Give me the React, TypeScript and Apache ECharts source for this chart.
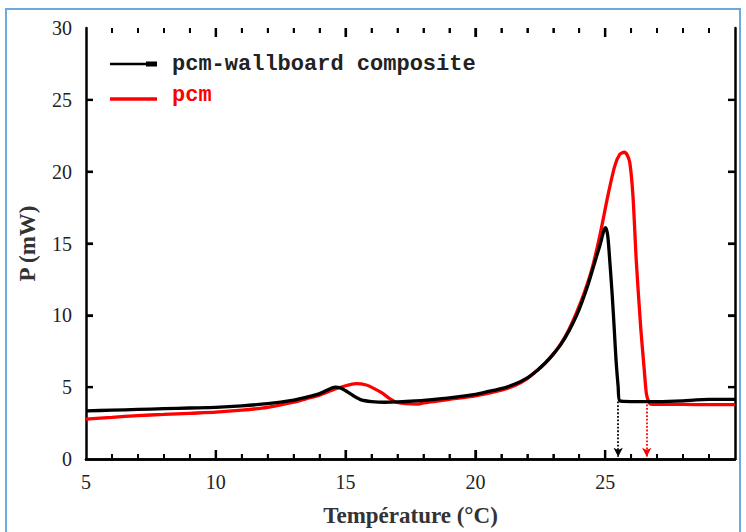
import React, { useEffect, useRef } from "react";
import * as echarts from "echarts";

// Temperature (°C) vs power (mW)
const compositeData: number[][] = [
  [5, 3.35], [6, 3.4], [7, 3.45], [8, 3.5], [9, 3.55], [10, 3.6], [11, 3.7], [12, 3.85],
  [13, 4.1], [13.5, 4.3], [14, 4.55], [14.3, 4.8], [14.6, 5.0], [14.8, 4.95], [15.0, 4.75],
  [15.3, 4.4], [15.6, 4.12], [16.0, 4.0], [16.5, 3.95], [17, 3.97], [17.5, 4.02], [18, 4.08],
  [19, 4.25], [20, 4.5], [20.5, 4.7], [21, 4.9], [21.5, 5.2], [22, 5.65], [22.4, 6.2],
  [22.7, 6.7], [23, 7.3], [23.3, 8.0], [23.6, 8.9], [23.9, 10.0], [24.1, 10.9], [24.35, 12.2],
  [24.6, 13.7], [24.8, 14.9], [24.95, 15.9], [25.02, 16.1], [25.1, 15.5], [25.18, 13.7],
  [25.27, 11.4], [25.35, 9.0], [25.42, 6.8], [25.5, 5.0], [25.56, 4.05], [26, 4.0], [27, 4.0],
  [28, 4.05], [28.5, 4.12], [29, 4.15], [30, 4.15],
];

const pcmData: number[][] = [
  [5, 2.78], [6, 2.9], [7, 3.02], [8, 3.1], [9, 3.18], [10, 3.26], [11, 3.4], [12, 3.6],
  [13, 3.95], [13.5, 4.2], [14, 4.45], [14.5, 4.8], [15, 5.1], [15.4, 5.25], [15.8, 5.15],
  [16.1, 4.9], [16.4, 4.6], [16.7, 4.2], [16.95, 3.95], [17.3, 3.85], [17.8, 3.82], [18, 3.9],
  [19, 4.15], [20, 4.4], [21, 4.8], [21.5, 5.1], [22, 5.6], [22.4, 6.2], [22.7, 6.7], [23, 7.3],
  [23.3, 8.05], [23.6, 9.0], [23.9, 10.2], [24.2, 11.6], [24.5, 13.3], [24.8, 15.6], [25.1, 18.3],
  [25.37, 20.4], [25.56, 21.2], [25.73, 21.35], [25.85, 21.15], [25.95, 20.6], [26.07, 18.3],
  [26.2, 13.7], [26.37, 9.1], [26.5, 6.3], [26.59, 4.5], [26.7, 3.9], [26.8, 3.8], [28, 3.8],
  [29, 3.78], [30, 3.78],
];

// Onset-end markers (dotted arrows): [temperature, start power]
const compositeArrow = [25.5, 4.0];
const pcmArrow = [26.6, 3.8];

const seriesNames = ["pcm-wallboard composite", "pcm"];
const xLabelTicks = [5, 10, 15, 20, 25];
const xMajorTicks = [10, 15, 20, 25];
const xMinorTicks = [6, 7, 8, 9, 11, 12, 13, 14, 16, 17, 18, 19, 21, 22, 23, 24, 26, 27, 28, 29];
const yMajorTicks = [5, 10, 15, 20, 25];

const X_MIN = 5, X_MAX = 30, Y_MIN = 0, Y_MAX = 30;

export default function App() {
  const ref = useRef<HTMLDivElement>(null);
  useEffect(() => {
    document.body.style.margin = "0";
    const chart = echarts.init(ref.current!, null, { renderer: "svg" });
    const serif = "'Liberation Serif', 'Times New Roman', serif";
    const mono = "'Liberation Mono', 'DejaVu Sans Mono', monospace";
    const GRID = { left: 86, right: 11, top: 28, bottom: 70 };
    const W = 746, H = 532;
    // data units per pixel, to give ticks a fixed pixel length
    const yPerPx = (Y_MAX - Y_MIN) / (H - GRID.top - GRID.bottom);
    const xPerPx = (X_MAX - X_MIN) / (W - GRID.left - GRID.right);

    const axisLine = { show: true, lineStyle: { color: "#000", width: 2.5 } };
    const xBase = {
      type: "value" as const,
      min: X_MIN,
      max: X_MAX,
      interval: 5,
      axisLine,
      axisTick: { show: false },
      splitLine: { show: false },
    };
    const yBase = {
      type: "value" as const,
      min: Y_MIN,
      max: Y_MAX,
      interval: 5,
      axisLine,
      axisTick: { show: false },
      splitLine: { show: false },
    };

    // tick segments as markLine pairs, computed from the tick arrays
    const tickStyle = (w: number) => ({ type: "solid", color: "#000", width: w });
    const seg = (a: number[], b: number[], w: number) => [
      { coord: a, symbol: "none", lineStyle: tickStyle(w) },
      { coord: b, symbol: "none" },
    ];
    const tickSegs: any[] = [];
    const xTick = (v: number, lenPx: number, w: number) => {
      tickSegs.push(seg([v, Y_MIN], [v, Y_MIN + lenPx * yPerPx], w));
      tickSegs.push(seg([v, Y_MAX], [v, Y_MAX - lenPx * yPerPx], w));
    };
    xMajorTicks.forEach((v) => xTick(v, 9, 2.2));
    xMinorTicks.forEach((v) => xTick(v, 5, 1.8));
    yMajorTicks.forEach((v) => {
      tickSegs.push(seg([X_MIN, v], [X_MIN + 7 * xPerPx, v], 2.2));
      tickSegs.push(seg([X_MAX, v], [X_MAX - 7 * xPerPx, v], 2.2));
    });

    const arrowPair = (pt: number[], color: string) => [
      { coord: [pt[0], pt[1]], symbol: "none", lineStyle: { type: "dotted", color, width: 1.8 } },
      { coord: [pt[0], 0.15], symbol: "arrow" },
    ];

    const legendGraphics = [
      {
        type: "rect",
        shape: { x: 6, y: 9, width: 734, height: 540 },
        style: { fill: "none", stroke: "#6fa8dc", lineWidth: 2 },
        silent: true,
      },
      { type: "line", shape: { x1: 110, y1: 64, x2: 157, y2: 64 }, style: { stroke: "#000", lineWidth: 2.5 } },
      { type: "rect", shape: { x: 146, y: 61.5, width: 11, height: 5 }, style: { fill: "#000" } },
      {
        type: "text", x: 172, y: 64,
        style: { text: seriesNames[0], fontFamily: mono, fontWeight: "bold", fontSize: 22, fill: "#222", verticalAlign: "middle" },
      },
      { type: "line", shape: { x1: 110, y1: 99, x2: 157, y2: 99 }, style: { stroke: "#ff0000", lineWidth: 3.5 } },
      {
        type: "text", x: 172, y: 95,
        style: { text: seriesNames[1], fontFamily: mono, fontWeight: "bold", fontSize: 22, fill: "#ff0000", verticalAlign: "middle" },
      },
    ];

    chart.setOption({
      animation: false,
      backgroundColor: "#fff",
      grid: GRID,
      xAxis: [
        {
          ...xBase,
          position: "bottom",
          axisLabel: {
            show: true,
            margin: 13,
            fontFamily: serif,
            fontSize: 20,
            color: "#222",
            formatter: (v: number) => (xLabelTicks.includes(v) ? String(v) : ""),
          },
          name: "Température (°C)",
          nameLocation: "middle",
          nameGap: 45,
          nameTextStyle: { fontFamily: serif, fontSize: 23, fontWeight: "bold", color: "#333" },
        },
        { ...xBase, position: "top", axisLabel: { show: false } },
      ],
      yAxis: [
        {
          ...yBase,
          position: "left",
          axisLabel: { show: true, margin: 14, fontFamily: serif, fontSize: 20, color: "#222" },
          name: "P (mW)",
          nameLocation: "middle",
          nameGap: 47,
          nameRotate: 90,
          nameTextStyle: { fontFamily: serif, fontSize: 23, fontWeight: "bold", color: "#333" },
        },
        { ...yBase, position: "right", axisLabel: { show: false } },
      ],
      series: [
        {
          name: seriesNames[1],
          type: "line",
          data: pcmData,
          showSymbol: false,
          smooth: 0.25,
          lineStyle: { color: "#ff0000", width: 3.3 },
          itemStyle: { color: "#ff0000" },
          markLine: {
            silent: true,
            symbolSize: [7, 9],
            label: { show: false },
            data: [arrowPair(pcmArrow, "#ff0000")],
          },
        },
        {
          name: seriesNames[0],
          type: "line",
          data: compositeData,
          showSymbol: false,
          smooth: 0.25,
          lineStyle: { color: "#000", width: 3.3 },
          itemStyle: { color: "#000" },
          markLine: {
            silent: true,
            symbolSize: [7, 9],
            label: { show: false },
            emphasis: { disabled: true },
            data: [arrowPair(compositeArrow, "#000"), ...tickSegs],
          },
        },
      ],
      graphic: legendGraphics,
    });

    // Extra tick rendering through the chart's own pixel conversion (same positions)
    const px = (x: number, y: number) =>
      chart.convertToPixel({ gridIndex: 0 }, [x, y]) as number[];
    const tickEls: any[] = [];
    const vTick = (x: number, len: number, w: number) => {
      const b = px(x, Y_MIN);
      const t = px(x, Y_MAX);
      tickEls.push({ type: "rect", z: 100, silent: true, shape: { x: b[0] - w / 2, y: b[1] - len, width: w, height: len }, style: { fill: "#000" } });
      tickEls.push({ type: "rect", z: 100, silent: true, shape: { x: t[0] - w / 2, y: t[1], width: w, height: len }, style: { fill: "#000" } });
    };
    xMajorTicks.forEach((v) => vTick(v, 9, 2.2));
    xMinorTicks.forEach((v) => vTick(v, 5, 1.8));
    yMajorTicks.forEach((v) => {
      const l = px(X_MIN, v);
      const r = px(X_MAX, v);
      tickEls.push({ type: "rect", z: 100, silent: true, shape: { x: l[0], y: l[1] - 1.1, width: 7, height: 2.2 }, style: { fill: "#000" } });
      tickEls.push({ type: "rect", z: 100, silent: true, shape: { x: r[0] - 7, y: r[1] - 1.1, width: 7, height: 2.2 }, style: { fill: "#000" } });
    });
    chart.setOption({ graphic: [...legendGraphics, ...tickEls] });

    return () => chart.dispose();
  }, []);
  return (
    <div
      ref={ref}
      style={{ position: "absolute", left: 0, top: 0, width: 746, height: 532 }}
    />
  );
}
